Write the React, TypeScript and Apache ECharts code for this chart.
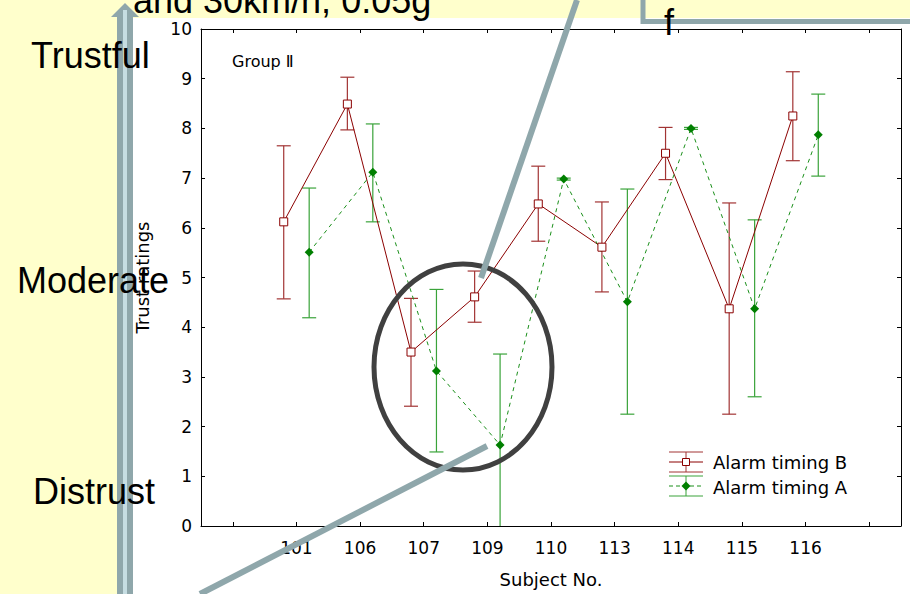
import React, { useEffect, useRef } from 'react';
import * as echarts from 'echarts';

// ---- data ----
const subjects = ['101', '106', '107', '109', '110', '113', '114', '115', '116'];
const axisCategories = ['', ...subjects, ''];

// Alarm timing B (red, hollow squares, solid line)
const meanB = [6.12, 8.49, 3.5, 4.61, 6.48, 5.61, 7.5, 4.37, 8.25];
const lowB = [4.57, 7.97, 2.41, 4.1, 5.73, 4.71, 6.97, 2.25, 7.35];
const highB = [7.65, 9.03, 4.58, 5.13, 7.24, 6.52, 8.02, 6.5, 9.14];

// Alarm timing A (green, filled diamonds, dashed line)
const meanA = [5.51, 7.12, 3.12, 1.63, 6.98, 4.51, 8.0, 4.37, 7.87];
const lowA = [4.19, 6.12, 1.49, -0.3, 6.96, 2.25, 7.98, 2.6, 7.04];
const highA = [6.8, 8.09, 4.76, 3.46, 7.0, 6.78, 8.02, 6.16, 8.69];

const seriesNames = ['Alarm timing B', 'Alarm timing A'];
const sideLabels = ['Trustful', 'Moderate', 'Distrust'];
const panelLabel = 'Group Ⅱ';
const yAxisName = 'Trust ratings';
const xAxisName = 'Subject No.';
const slideTitleFragment = 'and 30km/h, 0.05g';

const RED = '#8b0000';
const RED_BAR = '#a23434';
const GREEN = '#007f00';
const GREEN_LINE = '#1a8f1a';
const GREEN_BAR = '#3aa33a';
const GRAY = '#8fa7ab';
const YELLOW = '#ffffcc';
const CHART_FONT = 'DejaVu Sans';
const SLIDE_FONT = 'Liberation Sans, Arial, sans-serif';

const DODGE = 0.2;

function errorBarSeries(name: string, low: number[], high: number[], offset: number, color: string) {
  return {
    type: 'custom',
    name,
    xAxisIndex: 0,
    yAxisIndex: 0,
    clip: true,
    z: 2,
    data: subjects.map((_, i) => [i + 1.5 + offset, low[i], high[i]]),
    encode: { x: 0, y: [1, 2] },
    renderItem: (params: any, api: any) => {
      const x = api.value(0);
      const lo = api.coord([x, api.value(1)]);
      const hi = api.coord([x, api.value(2)]);
      const hw = 7;
      const style = { stroke: color, lineWidth: 1.2, fill: 'none' };
      return {
        type: 'group',
        children: [
          { type: 'line', shape: { x1: lo[0], y1: lo[1], x2: hi[0], y2: hi[1] }, style },
          { type: 'line', shape: { x1: hi[0] - hw, y1: hi[1], x2: hi[0] + hw, y2: hi[1] }, style },
          { type: 'line', shape: { x1: lo[0] - hw, y1: lo[1], x2: lo[0] + hw, y2: lo[1] }, style },
        ],
      };
    },
  };
}

function txt(text: string, x: number, y: number, size: number, family: string, align = 'left', z = 50) {
  return {
    type: 'text',
    x,
    y,
    z,
    style: {
      text,
      fill: '#000',
      fontSize: size,
      fontFamily: family,
      align,
      verticalAlign: 'middle',
      textAlign: align,
      textVerticalAlign: 'middle',
    },
  };
}

export default function App() {
  const ref = useRef<HTMLDivElement>(null);

  useEffect(() => {
    if (!ref.current) return;
    const chart = echarts.init(ref.current, undefined, { renderer: 'svg' });

    const axisLine = { show: true, lineStyle: { color: '#000', width: 1 } };

    const option: any = {
      animation: false,
      backgroundColor: '#ffffff',
      grid: { left: 201, top: 29, width: 700, height: 497, containLabel: false },
      xAxis: [
        { type: 'value', min: 0, max: 11, show: false, position: 'bottom' },
        {
          type: 'category',
          data: axisCategories,
          position: 'bottom',
          boundaryGap: true,
          axisLine,
          axisTick: { show: true, inside: true, alignWithLabel: true, interval: 0, length: 4, lineStyle: { color: '#000' } },
          axisLabel: { show: true, interval: 0, margin: 13, fontSize: 17, fontFamily: CHART_FONT, color: '#000' },
          splitLine: { show: false },
          name: xAxisName,
          nameLocation: 'middle',
          nameGap: 44,
          nameTextStyle: { fontSize: 18, fontFamily: CHART_FONT, color: '#000' },
        },
        {
          type: 'category',
          data: axisCategories,
          position: 'top',
          boundaryGap: true,
          axisLine,
          axisTick: { show: true, inside: true, alignWithLabel: true, interval: 0, length: 4, lineStyle: { color: '#000' } },
          axisLabel: { show: false },
          splitLine: { show: false },
        },
      ],
      yAxis: [
        {
          type: 'value',
          min: 0,
          max: 10,
          interval: 1,
          position: 'left',
          axisLine,
          axisTick: { show: true, inside: true, length: 4, lineStyle: { color: '#000' } },
          axisLabel: { show: true, margin: 9, fontSize: 17, fontFamily: CHART_FONT, color: '#000' },
          splitLine: { show: false },
          name: yAxisName,
          nameLocation: 'middle',
          nameGap: 50,
          nameTextStyle: { fontSize: 18, fontFamily: CHART_FONT, color: '#000' },
        },
        {
          type: 'value',
          min: 0,
          max: 10,
          interval: 1,
          position: 'right',
          axisLine,
          axisTick: { show: true, inside: true, length: 4, lineStyle: { color: '#000' } },
          axisLabel: { show: false },
          splitLine: { show: false },
        },
      ],
      series: [
        errorBarSeries(seriesNames[0] + ' error', lowB, highB, -DODGE, RED_BAR),
        errorBarSeries(seriesNames[1] + ' error', lowA, highA, DODGE, GREEN_BAR),
        {
          type: 'line',
          name: seriesNames[0],
          xAxisIndex: 0,
          yAxisIndex: 0,
          z: 3,
          data: subjects.map((_, i) => [i + 1.5 - DODGE, meanB[i]]),
          symbol: 'rect',
          symbolSize: 8,
          itemStyle: { color: '#ffffff', borderColor: RED, borderWidth: 1 },
          lineStyle: { color: RED, width: 1 },
        },
        {
          type: 'line',
          name: seriesNames[1],
          xAxisIndex: 0,
          yAxisIndex: 0,
          z: 3,
          data: subjects.map((_, i) => [i + 1.5 + DODGE, meanA[i]]),
          symbol: 'diamond',
          symbolSize: 9,
          itemStyle: { color: GREEN },
          lineStyle: { color: GREEN_LINE, width: 1, type: [4, 4] },
        },
      ],
      graphic: [
        // slide background
        { type: 'rect', z: -10, shape: { x: 0, y: 0, width: 118, height: 594 }, style: { fill: YELLOW } },
        { type: 'rect', z: -10, shape: { x: 0, y: 0, width: 910, height: 18 }, style: { fill: YELLOW } },
        // slide title fragment and box
        txt(slideTitleFragment, 133, 0, 36, SLIDE_FONT),
        {
          type: 'polyline',
          z: 40,
          shape: { points: [[643, 0], [643, 21.5], [910, 21.5]] },
          style: { stroke: GRAY, lineWidth: 5, fill: 'none' },
        },
        txt('f', 664, 22, 36, SLIDE_FONT),
        // panel label
        txt(panelLabel, 232, 61, 16, CHART_FONT),
        // vertical arrow
        { type: 'rect', z: 40, shape: { x: 117, y: 16, width: 16, height: 578 }, style: { fill: GRAY } },
        { type: 'rect', z: 41, shape: { x: 123, y: 10, width: 4, height: 584 }, style: { fill: '#c6dde2' } },
        { type: 'polygon', z: 40, shape: { points: [[111, 17], [139, 17], [125, 3]] }, style: { fill: GRAY } },
        { type: 'rect', z: 41, shape: { x: 123, y: 10, width: 4, height: 10 }, style: { fill: '#c6dde2' } },
        // side labels
        txt(sideLabels[0], 31, 55, 36, SLIDE_FONT),
        txt(sideLabels[1], 17, 280, 36, SLIDE_FONT),
        txt(sideLabels[2], 33, 491, 36, SLIDE_FONT),
        // highlight ellipse
        {
          type: 'ellipse',
          z: 60,
          shape: { cx: 463, cy: 367, rx: 89, ry: 103 },
          style: { fill: 'none', stroke: '#404040', lineWidth: 5 },
        },
        // callout lines
        { type: 'line', z: 61, shape: { x1: 577, y1: 0, x2: 481, y2: 278 }, style: { stroke: GRAY, lineWidth: 6 } },
        { type: 'line', z: 61, shape: { x1: 487, y1: 446, x2: 200, y2: 594 }, style: { stroke: GRAY, lineWidth: 6 } },
        // legend: Alarm timing B
        { type: 'line', z: 50, shape: { x1: 669, y1: 452, x2: 703, y2: 452 }, style: { stroke: RED_BAR, lineWidth: 1 } },
        { type: 'line', z: 50, shape: { x1: 669, y1: 472, x2: 703, y2: 472 }, style: { stroke: RED_BAR, lineWidth: 1 } },
        { type: 'line', z: 50, shape: { x1: 686, y1: 452, x2: 686, y2: 472 }, style: { stroke: RED_BAR, lineWidth: 1 } },
        { type: 'line', z: 50, shape: { x1: 669, y1: 462, x2: 703, y2: 462 }, style: { stroke: RED, lineWidth: 1 } },
        { type: 'rect', z: 51, shape: { x: 682.5, y: 458.5, width: 7, height: 7 }, style: { fill: '#fff', stroke: RED, lineWidth: 1 } },
        txt(seriesNames[0], 713, 462, 18, CHART_FONT),
        // legend: Alarm timing A
        { type: 'line', z: 50, shape: { x1: 669, y1: 476, x2: 703, y2: 476 }, style: { stroke: GREEN_BAR, lineWidth: 1 } },
        { type: 'line', z: 50, shape: { x1: 669, y1: 496, x2: 703, y2: 496 }, style: { stroke: GREEN_BAR, lineWidth: 1 } },
        { type: 'line', z: 50, shape: { x1: 686, y1: 476, x2: 686, y2: 496 }, style: { stroke: GREEN_BAR, lineWidth: 1 } },
        { type: 'line', z: 50, shape: { x1: 669, y1: 486, x2: 703, y2: 486 }, style: { stroke: GREEN_LINE, lineWidth: 1, lineDash: [4, 3] } },
        { type: 'polygon', z: 51, shape: { points: [[686, 481.5], [690.5, 486], [686, 490.5], [681.5, 486]] }, style: { fill: GREEN } },
        txt(seriesNames[1], 713, 487, 18, CHART_FONT),
      ],
    };

    chart.setOption(option);
    return () => chart.dispose();
  }, []);

  return (
    <div
      ref={ref}
      style={{ position: 'absolute', left: 0, top: 0, width: 910, height: 594 }}
    />
  );
}
